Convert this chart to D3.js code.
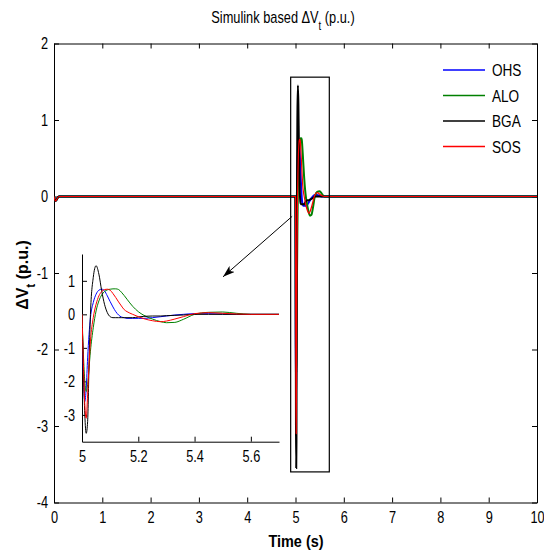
<!DOCTYPE html>
<html>
<head>
<meta charset="utf-8">
<script src="https://cdn.jsdelivr.net/npm/d3@7"></script>
<style>
  body { margin: 0; background: #fff; }
  svg text { font-family: "Liberation Sans", Arial, sans-serif; fill: #000; }
</style>
</head>
<body>
<svg id="chart" width="544" height="556"></svg>
<script>
// data
const seriesNames = ["OHS", "ALO", "BGA", "SOS"];
const seriesColors = ["#0000ff", "#008000", "#000000", "#ff0000"];

const times = [0, 0.03, 0.1, 5.0, 5.005, 5.01, 5.015, 5.02, 5.025, 5.03, 5.04, 5.05, 5.06, 5.07, 5.08, 5.09,
  5.10, 5.11, 5.12, 5.13, 5.14, 5.15, 5.16, 5.18, 5.20, 5.22, 5.25, 5.28, 5.30, 5.33, 5.36, 5.40, 5.45,
  5.50, 5.55, 5.60, 5.70, 10];

const ohs = [0, -0.06, 0, 0, -1.8, -2.6, -2.2, -1.3, -0.6, -0.1, 0.35, 0.6, 0.72, 0.75, 0.7, 0.55,
  0.38, 0.22, 0.08, -0.02, -0.08, -0.1, -0.12, -0.12, -0.12, -0.12, -0.1, -0.07, -0.05, -0.02, 0, 0.02, 0.02,
  0.01, 0, 0, 0, 0];
const alo = [0, -0.06, 0, 0, -1.2, -2.0, -2.3, -2.1, -1.6, -1.1, -0.4, 0.1, 0.4, 0.58, 0.68, 0.73,
  0.75, 0.76, 0.76, 0.74, 0.66, 0.56, 0.45, 0.24, 0.08, -0.03, -0.14, -0.22, -0.25, -0.24, -0.15, 0, 0.06,
  0.07, 0.03, 0, 0, 0];
const bga = [0, -0.06, 0, 0, -1.6, -3.0, -3.55, -3.2, -1.5, 0.0, 1.1, 1.45, 1.2, 0.7, 0.3, 0.05,
  -0.07, -0.1, -0.1, -0.1, -0.1, -0.1, -0.1, -0.1, -0.08, -0.06, -0.05, -0.05, -0.04, -0.03, -0.02, 0, 0,
  0, 0, 0, 0, 0];
const sos = [0, -0.06, 0, 0, -1.5, -2.7, -3.1, -2.4, -1.5, -0.8, -0.1, 0.3, 0.55, 0.68, 0.74, 0.75,
  0.72, 0.62, 0.5, 0.37, 0.25, 0.14, 0.08, 0.0, -0.07, -0.13, -0.19, -0.22, -0.2, -0.14, -0.07, 0.02, 0.05,
  0.03, 0.01, 0, 0, 0];
const seriesValues = [ohs, alo, bga, sos];

const xTicks = [0, 1, 2, 3, 4, 5, 6, 7, 8, 9, 10];
const yTicks = [-4, -3, -2, -1, 0, 1, 2];
const insetXTicks = [5, 5.2, 5.4, 5.6];
const insetYTicks = [-3, -2, -1, 0, 1];

const svg = d3.select("#chart");
const fmt = d => String(d);

// squeeze text sideways, the original uses a narrow face
function narrow(sel, sx) {
  sel.each(function () {
    const t = d3.select(this);
    const tx = +t.attr("x") || 0, ty = +t.attr("y") || 0;
    t.attr("x", 0).attr("y", 0).attr("transform", `translate(${tx},${ty}) scale(${sx},1)`);
  });
}

// main axes
const x = d3.scaleLinear().domain([0, 10]).range([54, 537]);
const y = d3.scaleLinear().domain([-4, 2]).range([502.5, 43.5]);

svg.append("defs").append("clipPath").attr("id", "clipMain")
  .append("rect").attr("x", 54).attr("y", 43.5).attr("width", 483).attr("height", 459);

const tickFont = "17px";
const squeeze = 0.75;

const gx = svg.append("g").attr("transform", "translate(0,502.5)")
  .call(d3.axisBottom(x).tickValues(xTicks).tickSize(-5).tickSizeOuter(0).tickPadding(8).tickFormat(fmt));
const gxTop = svg.append("g").attr("transform", "translate(0,43.5)")
  .call(d3.axisTop(x).tickValues(xTicks).tickSize(-5).tickSizeOuter(0).tickFormat(""));
const gy = svg.append("g").attr("transform", "translate(54,0)")
  .call(d3.axisLeft(y).tickValues(yTicks).tickSize(-5).tickSizeOuter(0).tickPadding(6).tickFormat(fmt));
const gyRight = svg.append("g").attr("transform", "translate(537,0)")
  .call(d3.axisRight(y).tickValues(yTicks).tickSize(-5).tickSizeOuter(0).tickFormat(""));

[gx, gxTop, gy, gyRight].forEach(g => {
  g.selectAll("path, line").attr("stroke", "#000").attr("stroke-width", 1);
  g.selectAll("text").style("font-size", tickFont).call(narrow, squeeze);
});

// lines
const line = (sx, sy) => d3.line()
  .x(d => sx(d[0]))
  .y(d => sy(d[1]))
  .curve(d3.curveMonotoneX);

// red drawn last and thinner so the darker lines show at its edges, as in the original
const mainWidths = [2, 2, 2, 1.2];
const mainG = svg.append("g").attr("clip-path", "url(#clipMain)");
seriesValues.forEach((vals, i) => {
  mainG.append("path")
    .datum(times.map((t, k) => [t, vals[k]]))
    .attr("fill", "none")
    .attr("stroke", seriesColors[i])
    .attr("stroke-width", mainWidths[i])
    .attr("d", line(x, y));
});

// zoom box
svg.append("rect")
  .attr("x", x(4.9)).attr("y", y(1.56))
  .attr("width", x(5.7) - x(4.9)).attr("height", y(-3.6) - y(1.56))
  .attr("fill", "none").attr("stroke", "#000").attr("stroke-width", 1.2);

// arrow
svg.append("defs").append("marker")
  .attr("id", "head").attr("viewBox", "0 0 12 8").attr("refX", 12).attr("refY", 4)
  .attr("markerWidth", 12).attr("markerHeight", 8).attr("markerUnits", "userSpaceOnUse")
  .attr("orient", "auto")
  .append("path").attr("d", "M0,0 L12,4 L0,8 L3,4 Z").attr("fill", "#000");
svg.append("line")
  .attr("x1", x(4.93)).attr("y1", y(-0.26))
  .attr("x2", x(3.5)).attr("y2", y(-1.05))
  .attr("stroke", "#000").attr("stroke-width", 1)
  .attr("marker-end", "url(#head)");

// inset
const xi = d3.scaleLinear().domain([5, 5.7]).range([82, 279]);
const yi = d3.scaleLinear().domain([-3.8, 1.8]).range([441.7, 254]);

svg.append("defs").append("clipPath").attr("id", "clipInset")
  .append("rect").attr("x", 82).attr("y", 254).attr("width", 197).attr("height", 187.7);

const gxi = svg.append("g").attr("transform", "translate(0,441.7)")
  .call(d3.axisBottom(xi).tickValues(insetXTicks).tickSize(-5).tickSizeOuter(0).tickPadding(8).tickFormat(fmt));
const gyi = svg.append("g").attr("transform", "translate(82,0)")
  .call(d3.axisLeft(yi).tickValues(insetYTicks).tickSize(-5).tickSizeOuter(0).tickPadding(7).tickFormat(fmt));
[gxi, gyi].forEach(g => {
  g.selectAll("path, line").attr("stroke", "#000").attr("stroke-width", 1);
  g.selectAll("text").style("font-size", tickFont).call(narrow, squeeze);
});

const insetG = svg.append("g").attr("clip-path", "url(#clipInset)");
seriesValues.forEach((vals, i) => {
  insetG.append("path")
    .datum(times.filter(t => t >= 5 && t <= 5.7).map(t => [t, vals[times.indexOf(t)]]))
    .attr("fill", "none")
    .attr("stroke", seriesColors[i])
    .attr("stroke-width", 1)
    .attr("d", line(xi, yi));
});

// legend
const legend = svg.append("g");
seriesNames.forEach((name, i) => {
  const ly = 70 + i * 25.5;
  legend.append("line").attr("x1", 443).attr("x2", 485).attr("y1", ly).attr("y2", ly)
    .attr("stroke", seriesColors[i]).attr("stroke-width", 1.3);
  legend.append("text").attr("x", 492).attr("y", ly).attr("dy", "0.36em")
    .style("font-size", "17px").text(name).call(narrow, 0.8);
});

// title
const title = svg.append("text").attr("x", 283).attr("y", 23).attr("text-anchor", "middle")
  .style("font-size", "16px");
title.append("tspan").text("Simulink based \u0394V");
title.append("tspan").attr("baseline-shift", "sub").style("font-size", "12px").text("t");
title.append("tspan").text(" (p.u.)");
title.call(narrow, 0.8);

// axis labels
svg.append("text").attr("x", 296).attr("y", 547).attr("text-anchor", "middle")
  .style("font-size", "17px").style("font-weight", "bold").text("Time (s)").call(narrow, 0.85);

const yl = svg.append("text").attr("transform", "translate(28,275) rotate(-90)")
  .attr("text-anchor", "middle").style("font-size", "16px").style("font-weight", "bold");
yl.append("tspan").text("\u0394V");
yl.append("tspan").attr("baseline-shift", "sub").style("font-size", "12px").text("t");
yl.append("tspan").text(" (p.u.)");
</script>
</body>
</html>
